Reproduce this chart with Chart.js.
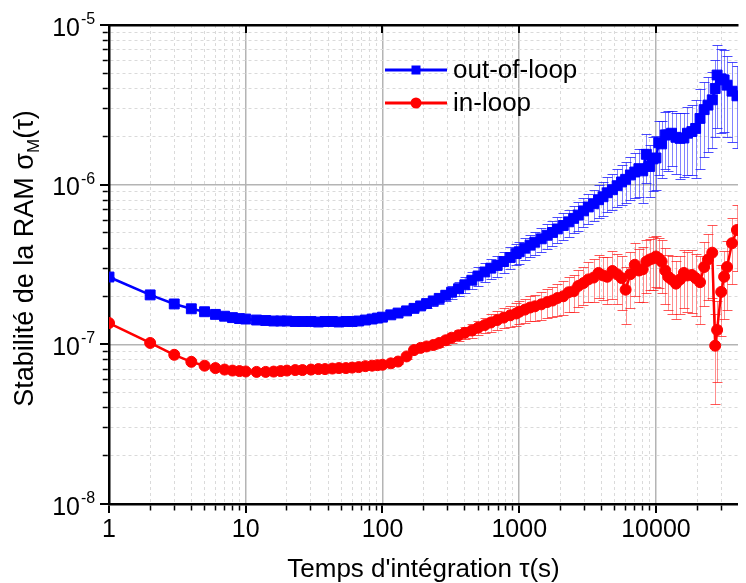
<!DOCTYPE html>
<html>
<head>
<meta charset="utf-8">
<script src="https://cdn.jsdelivr.net/npm/chart.js@4.4.1/dist/chart.umd.min.js"></script>
<style>
  html, body { margin: 0; padding: 0; background: #fff; overflow: hidden; }
  canvas { display: block; }
</style>
</head>
<body>
<canvas id="allan" width="746" height="583"></canvas>
<script>
// integration times (s)
const tau = [
  1, 2, 3, 4, 5, 6, 7, 8, 9,
  10, 12, 14, 16, 18, 20, 23, 26, 30, 34, 38, 43, 48, 54, 60, 67, 75, 84, 92,
  100, 115, 130, 150, 170, 190, 210, 235, 260, 290, 320, 360, 400, 450, 500, 560, 620, 690, 770, 860, 950,
  1000, 1100, 1200, 1300, 1450, 1600, 1750, 1900, 2100, 2300, 2500, 2700, 2950, 3200, 3500, 3800, 4100, 4400, 4800, 5200, 5600, 6000, 6500, 7000, 7500, 8000, 8500, 9000, 9500,
  10000, 10500, 11000, 11700, 12300, 13000, 14000, 15000, 16000, 17000, 18300, 19500, 21000, 22500, 24000, 25800, 27100, 28000, 30000, 31500, 33100, 36000, 39100
];

const outOfLoop = [
  2.64e-7, 2.04e-7, 1.79e-7, 1.67e-7, 1.60e-7, 1.54e-7, 1.50e-7, 1.47e-7, 1.45e-7,
  1.44e-7, 1.42e-7, 1.41e-7, 1.40e-7, 1.40e-7, 1.40e-7, 1.39e-7, 1.39e-7, 1.39e-7, 1.38e-7, 1.39e-7, 1.39e-7, 1.38e-7, 1.39e-7, 1.39e-7, 1.40e-7, 1.42e-7, 1.44e-7, 1.46e-7,
  1.48e-7, 1.53e-7, 1.57e-7, 1.62e-7, 1.68e-7, 1.74e-7, 1.80e-7, 1.87e-7, 1.94e-7, 2.03e-7, 2.12e-7, 2.23e-7, 2.36e-7, 2.52e-7, 2.68e-7, 2.84e-7, 3.00e-7, 3.12e-7, 3.30e-7, 3.50e-7, 3.70e-7,
  3.80e-7, 4.00e-7, 4.18e-7, 4.36e-7, 4.58e-7, 4.82e-7, 5.02e-7, 5.28e-7, 5.55e-7, 5.85e-7, 6.15e-7, 6.45e-7, 6.85e-7, 7.25e-7, 7.60e-7, 8.05e-7, 8.40e-7, 8.90e-7, 9.30e-7, 9.85e-7, 1.04e-6, 1.08e-6, 1.15e-6, 1.20e-6, 1.26e-6, 1.22e-6, 1.55e-6, 1.30e-6, 1.45e-6,
  1.47e-6, 1.83e-6, 1.80e-6, 2.05e-6, 2.05e-6, 2.10e-6, 1.98e-6, 1.95e-6, 1.96e-6, 2.10e-6, 2.15e-6, 2.25e-6, 2.60e-6, 2.95e-6, 3.15e-6, 3.40e-6, 4.00e-6, 4.86e-6, 4.60e-6, 4.53e-6, 4.20e-6, 3.85e-6, 3.60e-6
];
const outOfLoopErr = [
  0.005e-7, 0.01e-7, 0.01e-7, 0.01e-7, 0.01e-7, 0.01e-7, 0.01e-7, 0.01e-7, 0.01e-7,
  0.01e-7, 0.01e-7, 0.01e-7, 0.01e-7, 0.01e-7, 0.01e-7, 0.015e-7, 0.015e-7, 0.015e-7, 0.015e-7, 0.02e-7, 0.02e-7, 0.02e-7, 0.02e-7, 0.025e-7, 0.025e-7, 0.03e-7, 0.03e-7, 0.03e-7,
  0.035e-7, 0.04e-7, 0.05e-7, 0.06e-7, 0.07e-7, 0.08e-7, 0.10e-7, 0.12e-7, 0.14e-7, 0.17e-7, 0.20e-7, 0.23e-7, 0.27e-7, 0.31e-7, 0.35e-7, 0.39e-7, 0.43e-7, 0.47e-7, 0.51e-7, 0.55e-7, 0.58e-7,
  0.60e-7, 0.64e-7, 0.68e-7, 0.72e-7, 0.78e-7, 0.84e-7, 0.90e-7, 0.96e-7, 1.05e-7, 1.12e-7, 1.20e-7, 1.30e-7, 1.42e-7, 1.55e-7, 1.70e-7, 1.85e-7, 2.00e-7, 2.20e-7, 2.40e-7, 2.65e-7, 2.90e-7, 3.10e-7, 3.50e-7, 3.80e-7, 4.20e-7, 4.50e-7, 5.20e-7, 4.60e-7, 5.40e-7,
  5.5e-7, 6.8e-7, 7.0e-7, 8.0e-7, 8.4e-7, 8.0e-7, 8.2e-7, 8.6e-7, 8.5e-7, 9.5e-7, 10e-7, 11.5e-7, 13.5e-7, 14.5e-7, 15.5e-7, 17e-7, 20e-7, 26e-7, 25e-7, 24e-7, 22e-7, 20e-7, 19e-7
];

const inLoop = [
  1.36e-7, 1.02e-7, 0.86e-7, 0.777e-7, 0.735e-7, 0.71e-7, 0.695e-7, 0.685e-7, 0.68e-7,
  0.676e-7, 0.672e-7, 0.672e-7, 0.675e-7, 0.68e-7, 0.685e-7, 0.69e-7, 0.69e-7, 0.695e-7, 0.70e-7, 0.70e-7, 0.705e-7, 0.71e-7, 0.71e-7, 0.715e-7, 0.72e-7, 0.73e-7, 0.735e-7, 0.74e-7,
  0.745e-7, 0.76e-7, 0.78e-7, 0.84e-7, 0.92e-7, 0.95e-7, 0.97e-7, 0.99e-7, 1.02e-7, 1.06e-7, 1.10e-7, 1.14e-7, 1.18e-7, 1.22e-7, 1.27e-7, 1.32e-7, 1.37e-7, 1.42e-7, 1.47e-7, 1.52e-7, 1.56e-7,
  1.60e-7, 1.65e-7, 1.70e-7, 1.73e-7, 1.78e-7, 1.84e-7, 1.88e-7, 1.95e-7, 2.00e-7, 2.12e-7, 2.15e-7, 2.32e-7, 2.42e-7, 2.55e-7, 2.62e-7, 2.80e-7, 2.70e-7, 2.65e-7, 2.88e-7, 2.75e-7, 2.60e-7, 2.20e-7, 2.75e-7, 3.15e-7, 2.90e-7, 2.95e-7, 3.30e-7, 3.40e-7, 3.45e-7,
  3.55e-7, 3.45e-7, 3.30e-7, 2.90e-7, 2.65e-7, 2.55e-7, 2.40e-7, 2.55e-7, 2.80e-7, 2.70e-7, 2.72e-7, 2.60e-7, 2.45e-7, 3.05e-7, 3.40e-7, 3.75e-7, 0.98e-7, 1.23e-7, 2.13e-7, 2.65e-7, 3.05e-7, 4.30e-7, 5.20e-7
];
const inLoopErr = [
  0.005e-7, 0.005e-7, 0.005e-7, 0.005e-7, 0.005e-7, 0.005e-7, 0.005e-7, 0.005e-7, 0.005e-7,
  0.005e-7, 0.005e-7, 0.005e-7, 0.006e-7, 0.006e-7, 0.006e-7, 0.007e-7, 0.007e-7, 0.008e-7, 0.008e-7, 0.009e-7, 0.01e-7, 0.01e-7, 0.011e-7, 0.012e-7, 0.013e-7, 0.014e-7, 0.015e-7, 0.016e-7,
  0.017e-7, 0.02e-7, 0.022e-7, 0.025e-7, 0.03e-7, 0.035e-7, 0.04e-7, 0.05e-7, 0.06e-7, 0.07e-7, 0.08e-7, 0.09e-7, 0.10e-7, 0.12e-7, 0.13e-7, 0.15e-7, 0.17e-7, 0.19e-7, 0.21e-7, 0.23e-7, 0.25e-7,
  0.26e-7, 0.28e-7, 0.30e-7, 0.32e-7, 0.35e-7, 0.38e-7, 0.40e-7, 0.44e-7, 0.48e-7, 0.52e-7, 0.55e-7, 0.60e-7, 0.65e-7, 0.72e-7, 0.78e-7, 0.85e-7, 0.80e-7, 0.85e-7, 0.95e-7, 0.95e-7, 0.95e-7, 0.85e-7, 1.05e-7, 1.15e-7, 1.05e-7, 1.10e-7, 1.20e-7, 1.20e-7, 1.25e-7,
  1.25e-7, 1.2e-7, 1.2e-7, 1.1e-7, 1.0e-7, 1.0e-7, 0.95e-7, 1.0e-7, 1.1e-7, 1.1e-7, 1.15e-7, 1.1e-7, 1.1e-7, 1.3e-7, 1.5e-7, 1.8e-7, 0.56e-7, 0.65e-7, 1.0e-7, 1.2e-7, 1.4e-7, 1.9e-7, 2.3e-7
];

const xTickLabels = [1, 10, 100, 1000, 10000];
const yDecades = [1e-8, 1e-7, 1e-6, 1e-5];
const yTickExponents = ['-8', '-7', '-6', '-5'];
const minorSteps = [2, 3, 4, 5, 6, 7, 8, 9];

const X_MIN = 1, X_MAX = 39800;
const FONT = '"Liberation Sans", Arial, sans-serif';
const BLUE = '#0000ff', RED = '#ff0000';

const isDecade = v => Math.abs(Math.log10(v) - Math.round(Math.log10(v))) < 1e-9;

const xTicks = [];
xTickLabels.forEach(d => {
  xTicks.push(d);
  minorSteps.forEach(m => { if (m * d < X_MAX) xTicks.push(m * d); });
});
const yTicks = [];
yDecades.forEach((d, i) => {
  yTicks.push(d);
  if (i < yDecades.length - 1) minorSteps.forEach(m => yTicks.push(m * d));
});

const toPoints = vals => tau.map((t, i) => ({ x: t, y: vals[i] }));

const errorSets = [
  { index: 0, values: outOfLoop, errors: outOfLoopErr, bar: 'rgba(30,30,255,0.55)', cap: 'rgba(30,30,255,0.8)' },
  { index: 1, values: inLoop, errors: inLoopErr, bar: 'rgba(255,30,30,0.5)', cap: 'rgba(255,30,30,0.75)' }
];

const decorations = {
  id: 'decorations',
  beforeDatasetsDraw(chart) {
    const { ctx, chartArea: a, scales: { y } } = chart;
    ctx.save();
    ctx.beginPath();
    ctx.rect(a.left, a.top, a.right - a.left, a.bottom - a.top);
    ctx.clip();
    ctx.lineWidth = 1;
    errorSets.forEach(set => {
      const meta = chart.getDatasetMeta(set.index);
      meta.data.forEach((pt, i) => {
        const v = set.values[i], e = set.errors[i];
        const px = Math.round(pt.x) + 0.5;
        const top = Math.round(y.getPixelForValue(v + e)) + 0.5;
        const bot = Math.round(y.getPixelForValue(Math.max(v - e, 1e-9))) + 0.5;
        ctx.strokeStyle = set.bar;
        ctx.beginPath();
        ctx.moveTo(px, top); ctx.lineTo(px, bot);
        ctx.stroke();
        ctx.strokeStyle = set.cap;
        ctx.beginPath();
        ctx.moveTo(px - 5, top); ctx.lineTo(px + 5, top);
        ctx.moveTo(px - 5, bot); ctx.lineTo(px + 5, bot);
        ctx.stroke();
      });
    });
    ctx.restore();
  },
  afterDraw(chart) {
    const { ctx, chartArea: a, scales: { x, y } } = chart;
    ctx.save();

    // inward major ticks on the top frame
    ctx.strokeStyle = '#000';
    ctx.lineWidth = 2;
    xTickLabels.forEach(v => {
      if (v <= X_MIN) return;
      const px = Math.round(x.getPixelForValue(v));
      ctx.beginPath();
      ctx.moveTo(px, a.top);
      ctx.lineTo(px, a.top + 8);
      ctx.stroke();
    });

    // y tick labels 10^n
    ctx.fillStyle = '#000';
    ctx.textBaseline = 'alphabetic';
    yDecades.forEach((v, i) => {
      const py = y.getPixelForValue(v);
      ctx.font = '25px ' + FONT;
      ctx.textAlign = 'right';
      ctx.fillText('10', a.left - 29, py + 10.5);
      ctx.font = '16px ' + FONT;
      ctx.textAlign = 'left';
      ctx.fillText(yTickExponents[i], a.left - 28, py - 1);
    });

    // y axis title with subscript
    const parts = [
      { text: 'Stabilité de la RAM σ', font: '27px ' + FONT, shift: 0 },
      { text: 'M', font: '17px ' + FONT, shift: 6 },
      { text: '(τ)', font: '27px ' + FONT, shift: 0 }
    ];
    let total = 0;
    parts.forEach(p => { ctx.font = p.font; p.w = ctx.measureText(p.text).width; total += p.w; });
    ctx.translate(33, (a.top + a.bottom) / 2 - 6);
    ctx.rotate(-Math.PI / 2);
    ctx.textAlign = 'left';
    let cx = -total / 2;
    parts.forEach(p => {
      ctx.font = p.font;
      ctx.fillText(p.text, cx, p.shift);
      cx += p.w;
    });
    ctx.setTransform(1, 0, 0, 1, 0, 0);

    // legend: line + marker + label
    const lx = a.left + 276;
    const rows = [a.top + 45, a.top + 78];
    chart.data.datasets.forEach((ds, i) => {
      const ry = rows[i];
      ctx.strokeStyle = ds.borderColor;
      ctx.lineWidth = 3;
      ctx.beginPath();
      ctx.moveTo(lx, ry); ctx.lineTo(lx + 62, ry);
      ctx.stroke();
      ctx.fillStyle = ds.borderColor;
      if (ds.pointStyle === 'rect') {
        ctx.fillRect(lx + 31 - 4.5, ry - 4.5, 9, 9);
      } else {
        ctx.beginPath();
        ctx.arc(lx + 31, ry, 5.5, 0, Math.PI * 2);
        ctx.fill();
      }
      ctx.fillStyle = '#000';
      ctx.font = '26px ' + FONT;
      ctx.textAlign = 'left';
      ctx.textBaseline = 'middle';
      ctx.fillText(ds.label, lx + 68, ry + 1);
    });
    ctx.restore();
  }
};

const minorGrid = {
  color: '#dadada',
  lineWidth: ctx => (ctx.tick && isDecade(ctx.tick.value) ? 0 : 1),
  tickColor: '#000',
  tickLength: 9,
  tickWidth: ctx => (ctx.tick && isDecade(ctx.tick.value) ? 2 : 1.5)
};

new Chart(document.getElementById('allan'), {
  type: 'line',
  data: {
    datasets: [
      {
        label: 'out-of-loop',
        data: toPoints(outOfLoop),
        borderColor: BLUE,
        backgroundColor: BLUE,
        borderWidth: 2.5,
        pointStyle: 'rect',
        pointRadius: 7,
        pointBorderWidth: 1,
        pointBackgroundColor: BLUE,
        pointBorderColor: BLUE,
        tension: 0
      },
      {
        label: 'in-loop',
        data: toPoints(inLoop),
        borderColor: RED,
        backgroundColor: RED,
        borderWidth: 2.5,
        pointStyle: 'circle',
        pointRadius: 5.5,
        pointBorderWidth: 1,
        pointBackgroundColor: RED,
        pointBorderColor: RED,
        tension: 0
      }
    ]
  },
  options: {
    responsive: false,
    animation: false,
    layout: { padding: { left: 100, top: 25, right: 0, bottom: 0 } },
    plugins: { legend: { display: false }, tooltip: { enabled: false } },
    scales: {
      x: {
        type: 'logarithmic',
        position: 'bottom',
        min: X_MIN,
        max: X_MAX,
        afterBuildTicks: scale => { scale.ticks = xTicks.map(v => ({ value: v })); },
        afterFit: scale => { scale.height = 79; },
        ticks: {
          autoSkip: false,
          maxRotation: 0,
          minRotation: 0,
          padding: 5,
          color: '#000',
          font: { family: FONT, size: 25, lineHeight: 1 },
          callback: v => (xTickLabels.includes(v) ? String(v) : '')
        },
        grid: Object.assign({}, minorGrid, {
          tickBorderDash: ctx => (ctx.tick && isDecade(ctx.tick.value) ? [] : [5, 100])
        }),
        border: { color: '#000', width: 2.5, dash: [3, 3] },
        title: {
          display: true,
          text: "Temps d'intégration τ(s)",
          color: '#000',
          font: { family: FONT, size: 26, lineHeight: 1 },
          padding: { top: 0, bottom: 0 }
        }
      },
      x2: {
        type: 'logarithmic',
        position: 'top',
        min: X_MIN,
        max: X_MAX,
        afterBuildTicks: scale => { scale.ticks = xTickLabels.filter(v => v > X_MIN).map(v => ({ value: v })); },
        afterFit: scale => { scale.height = 0; },
        ticks: { display: false },
        grid: { color: '#b4b4b4', lineWidth: 1.5, drawTicks: false },
        border: { display: true, color: '#000', width: 2.5 }
      },
      y: {
        type: 'logarithmic',
        position: 'left',
        min: 1e-8,
        max: 1e-5,
        afterBuildTicks: scale => { scale.ticks = yTicks.map(v => ({ value: v })); },
        afterFit: scale => { scale.width = 9; },
        ticks: { display: false, autoSkip: false },
        grid: Object.assign({}, minorGrid, {
          tickBorderDash: ctx => (ctx.tick && isDecade(ctx.tick.value) ? [] : [0, 2.75, 5, 100])
        }),
        border: { color: '#000', width: 2.5, dash: [3, 3] }
      },
      y2: {
        type: 'logarithmic',
        position: 'right',
        min: 1e-8,
        max: 1e-5,
        afterBuildTicks: scale => { scale.ticks = [1e-7, 1e-6].map(v => ({ value: v })); },
        afterFit: scale => { scale.width = 0; },
        ticks: { display: false },
        grid: { color: '#b4b4b4', lineWidth: 1.5, drawTicks: false },
        border: { display: false }
      }
    }
  },
  plugins: [decorations]
});
</script>
</body>
</html>
